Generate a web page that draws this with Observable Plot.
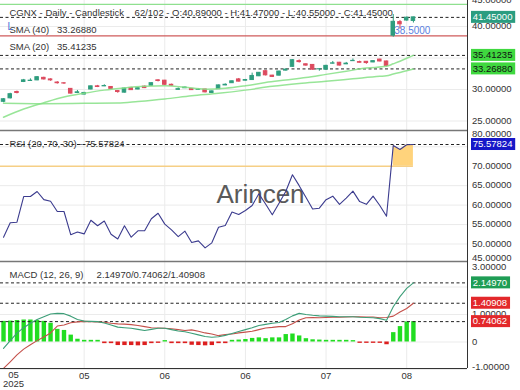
<!DOCTYPE html>
<html>
<head>
<meta charset="utf-8">
<script src="https://cdn.jsdelivr.net/npm/d3@7"></script>
<script src="https://cdn.jsdelivr.net/npm/@observablehq/plot@0.6"></script>
<style>
html,body{margin:0;padding:0;background:#fff;}
#chart{position:relative;width:520px;height:390px;overflow:hidden;background:#fff;}
#chart svg{position:absolute;left:0;}
</style>
</head>
<body>
<div id="chart"></div>
<script>
// ---------------- data ----------------
const xTickIdx = [0, 12, 24, 36, 48, 60];
const xTickLabels = ["05", "05", "06", "06", "07", "08"];
const xYearLabel = "2025";

const candleOpen = [28.05,28.6,29.6,31.2,31.35,31.45,31.85,31.6,31.1,30.98,30.1,29.45,29.2,30.0,30.5,30.5,30.4,29.75,29.5,30.25,30.0,30.45,30.6,31.45,31.4,30.75,29.95,30.2,30.1,29.95,30.0,29.45,30.05,30.65,31.0,31.6,31.4,31.5,32.1,32.9,32.2,32.2,33.0,33.6,34.5,34.0,33.9,33.2,33.15,34.1,34.25,34.0,34.5,34.35,34.4,34.3,34.75,34.45,38.55,40.7,40.95,40.89];
const candleHigh = [28.55,29.4,29.75,31.6,31.7,32.05,31.95,31.7,31.25,31.1,30.15,29.85,29.55,30.55,30.65,30.75,30.45,29.8,30.2,30.35,30.3,30.55,31.05,31.55,31.45,30.85,30.25,30.4,30.15,30.1,30.05,29.75,30.7,30.9,31.35,31.75,31.6,32.6,32.7,33.0,32.25,32.9,33.3,34.75,34.7,34.05,33.95,33.25,33.85,34.45,34.3,34.3,34.85,34.5,34.45,34.55,34.8,34.5,41.9,40.95,41.5,41.47];
const candleLow = [27.9,28.5,29.3,31.1,31.3,31.4,31.5,31.3,30.85,30.8,29.3,29.35,29.15,29.95,30.3,30.45,30.05,29.4,29.45,29.85,29.95,30.15,30.55,31.2,30.65,30.55,29.9,30.15,29.85,29.9,29.45,29.35,30.0,30.6,30.95,31.2,31.35,31.45,32.05,32.15,31.9,32.15,32.95,33.55,34.2,33.7,33.05,32.9,33.1,34.05,33.75,33.95,34.45,34.2,34.0,34.25,34.4,33.6,38.3,39.6,40.85,40.55];
const candleClose = [28.45,29.25,29.45,31.45,31.4,31.95,31.6,31.45,31.0,30.95,29.35,29.55,29.45,30.5,30.4,30.55,30.1,29.6,30.15,29.9,30.2,30.22,31.0,31.35,30.75,30.6,30.05,30.3,29.9,29.98,29.55,29.7,30.65,30.75,31.3,31.25,31.5,32.15,32.65,32.25,32.0,32.85,33.15,34.65,34.35,33.8,33.15,33.22,33.75,34.15,33.8,34.1,34.55,34.25,34.2,34.5,34.45,33.75,40.75,40.35,41.4,41.45];

const sma20Idx = [0,3,6,9,12,15,18,21,24,27,30,33,36,39,42,45,48,51,54,57,58,59,60,61];
const sma20Val = [25.6,26.9,27.9,28.8,29.4,29.9,30.25,30.5,30.6,30.35,30.05,30.2,30.6,31.1,31.5,31.9,32.4,32.9,33.4,33.68,34.08,34.49,34.96,35.41235];
const sma40Idx = [0,6,12,17,20,24,28,32,36,40,44,48,52,56,57,58,59,60,61];
const sma40Val = [27.8,27.75,27.8,27.85,28.1,28.5,29.0,29.4,29.9,30.5,30.95,31.3,31.7,32.1,32.18,32.45,32.71,32.99,33.2688];

const upperLineValue = 43.5;
const markerLineValue = 38.5;
const markerLabelIdx = 58;
const markerLabel = "38.5000";
const priceTicks = [25, 30, 35, 40, 45];
const priceTitle = "CGNX - Daily - Candlestick    62/102 - O:40.89000 - H:41.47000 - L:40.55000 - C:41.45000";
const sma40Label = "SMA (40)   33.26880";
const sma20Label = "SMA (20)   35.41235";

const rsiValues = [51.75,55.45,55.6,62.2,62.2,63.5,61.4,61.0,58.35,58.35,52.4,53.1,52.6,56.1,54.7,55.9,52.5,51.3,54.7,51.75,53.4,53.4,56.5,57.9,55.1,53.65,51.9,53.3,50.4,50.8,49.0,50.3,54.3,54.75,58.2,57.6,58.6,59.9,62.9,60.3,57.5,60.5,63.5,67.8,65.0,62.0,59.0,59.2,61.4,62.3,60.2,61.8,63.6,60.9,60.2,62.3,59.9,57.15,75.3,74.3,75.5,75.57824];
const rsiTicks = [45, 50, 55, 60, 65, 70, 75, 80];
const rsiOverbought = 70;
const rsiTitle = "RSI (20, 70, 30) - 75.57824";

const macdValues = [-0.23,0.05,0.32,0.52,0.68,0.82,0.92,1.02,1.04,1.03,0.94,0.82,0.76,0.75,0.74,0.69,0.62,0.54,0.52,0.50,0.46,0.42,0.46,0.50,0.50,0.45,0.40,0.37,0.32,0.26,0.20,0.17,0.19,0.24,0.31,0.38,0.45,0.52,0.60,0.64,0.68,0.71,0.82,0.95,1.04,1.00,0.97,0.95,0.94,0.93,0.92,0.92,0.92,0.90,0.89,0.88,0.85,0.79,1.28,1.65,1.95,2.1497];
const signalValues = [-0.96,-0.72,-0.47,-0.26,-0.10,0.05,0.18,0.33,0.58,0.62,0.70,0.73,0.75,0.74,0.73,0.72,0.68,0.66,0.65,0.63,0.60,0.56,0.52,0.51,0.50,0.48,0.45,0.42,0.44,0.39,0.33,0.29,0.23,0.27,0.29,0.33,0.36,0.39,0.45,0.51,0.53,0.56,0.56,0.66,0.80,0.88,0.89,0.88,0.89,0.90,0.90,0.91,0.92,0.92,0.91,0.91,0.88,0.89,0.94,1.09,1.22,1.40908];
const histValues = [0.75,0.76,0.78,0.80,0.80,0.78,0.75,0.68,0.46,0.42,0.25,0.10,0.06,0.06,0.06,-0.06,-0.06,-0.13,-0.13,-0.13,-0.14,-0.13,-0.06,-0.05,0.05,-0.06,-0.06,-0.06,-0.12,-0.13,-0.14,-0.13,-0.06,-0.06,0.06,0.07,0.09,0.13,0.15,0.12,0.15,0.15,0.27,0.29,0.22,0.12,0.08,0.07,0.06,0.06,0.06,0.06,0.05,-0.05,-0.05,-0.05,-0.05,-0.10,0.34,0.56,0.73,0.74062];
const macdTicks = [-1, 0, 1, 2, 3];
const macdTitle = "MACD (12, 26, 9)     2.14970/0.74062/1.40908";

// ---------------- helpers ----------------
const FONT = "'Liberation Sans', Arial, Helvetica, sans-serif";
const UP = "#2e9d7e", DOWN = "#dc4a5e", GRID = "#ebebeb";
const xDomain = [-0.45, 69.05];
const xGrid = xTickIdx.filter(d => d > 0);
const baseStyle = {fontFamily: FONT, fontSize: "9.5px", background: "transparent", overflow: "hidden", color: "#333"};

function fmt5(v) { return v === 0 ? "0" : v.toFixed(5); }

// right-hand tick labels; a label that sits under a value badge is hidden by it
function axisLabels(ticks, padTop, padBottom, badgeValues) {
  return (index, scales, values, dim) => {
    const g = d3.create("svg:g").attr("fill", "#333").attr("font-size", 9.5).attr("text-anchor", "start");
    const x0 = dim.width - dim.marginRight + 5;
    const top = dim.marginTop, bottom = dim.height - dim.marginBottom;
    const by = badgeValues.map(v => scales.y(v));
    for (const t of ticks) {
      const raw = scales.y(t);
      if (by.some(b => Math.abs(b - raw) < 6)) continue;
      const yy = Math.max(top + padTop, Math.min(bottom - padBottom, raw));
      g.append("text").attr("x", x0).attr("y", yy).attr("dy", "0.34em").text(fmt5(t));
    }
    return g.node();
  };
}
function badges(items) {
  return (index, scales, values, dim) => {
    const g = d3.create("svg:g").attr("font-size", 9.5).attr("text-anchor", "start");
    const x0 = dim.width - dim.marginRight + 4;
    for (const b of items) {
      const yy = scales.y(b.value);
      const label = b.value.toFixed(5);
      const w = label.length * 5.15 + 3;
      g.append("rect").attr("x", x0).attr("y", yy - 6).attr("width", w).attr("height", 12).attr("fill", b.bg);
      g.append("text").attr("x", x0 + 1.8).attr("y", yy).attr("dy", "0.34em").attr("fill", b.fg).text(label);
    }
    return g.node();
  };
}

// ---------------- price panel ----------------
const candles = candleOpen.map((o, i) => ({i, o, h: candleHigh[i], l: candleLow[i], c: candleClose[i]}));
const upC = candles.filter(d => d.c >= d.o);
const dnC = candles.filter(d => d.c < d.o);
const last = candles.length - 1;
const lastClose = candleClose[last];
const sma20Rows = sma20Idx.map((i, k) => ({i, v: sma20Val[k]}));
const sma40Rows = sma40Idx.map((i, k) => ({i, v: sma40Val[k]}));
const sma20Last = sma20Val[sma20Val.length - 1];
const sma40Last = sma40Val[sma40Val.length - 1];
const bodyOpts = (fill) => ({x1: d => d.i - 0.26, x2: d => d.i + 0.26, y1: d => Math.min(d.o, d.c), y2: d => Math.max(d.o, d.c), fill, stroke: fill, strokeWidth: 1});

const priceDomain = [23.49, 44.13];
const priceBadges = [
  {value: lastClose, bg: "#2a9d80", fg: "#fff"},
  {value: sma20Last, bg: "#3fd83f", fg: "#111"},
  {value: sma40Last, bg: "#3fd83f", fg: "#111"}
];
const pricePlot = Plot.plot({
  width: 520, height: 130, marginTop: 0, marginBottom: 0, marginLeft: 0, marginRight: 53,
  x: {domain: xDomain, axis: null},
  y: {domain: priceDomain, axis: null},
  style: baseStyle,
  marks: [
    Plot.ruleY(priceTicks, {stroke: GRID}),
    Plot.ruleX(xGrid, {stroke: GRID}),
    Plot.ruleY([upperLineValue], {stroke: "#8fe08f", strokeWidth: 1.3}),
    Plot.ruleY([markerLineValue], {stroke: "#cf5b5b", strokeWidth: 1.2}),
    Plot.ruleY([lastClose, sma20Last, sma40Last], {stroke: "#222", strokeDasharray: "3,2.5"}),
    Plot.text([{i: markerLabelIdx, v: markerLineValue}], {x: "i", y: "v", text: () => markerLabel, textAnchor: "start", dx: 1, dy: -5, fill: "#5b7fe0", fontSize: 10}),
    Plot.ruleX(upC, {x: "i", y1: "l", y2: "h", stroke: UP}),
    Plot.ruleX(dnC, {x: "i", y1: "l", y2: "h", stroke: DOWN}),
    Plot.rect(upC, bodyOpts(UP)),
    Plot.rect(dnC, bodyOpts(DOWN)),
    Plot.line(sma20Rows, {x: "i", y: "v", stroke: "#86e086", strokeWidth: 1.5, strokeOpacity: 0.85, curve: "monotone-x"}),
    Plot.line(sma40Rows, {x: "i", y: "v", stroke: "#86e086", strokeWidth: 1.5, strokeOpacity: 0.85, curve: "monotone-x"}),
    Plot.text([priceTitle], {frameAnchor: "top-left", dx: 9, dy: 12.5, lineAnchor: "middle", textAnchor: "start", text: d => d, fill: "#333"}),
    Plot.text([sma40Label], {frameAnchor: "top-left", dx: 9, dy: 29, lineAnchor: "middle", textAnchor: "start", text: d => d, fill: "#333"}),
    Plot.text([sma20Label], {frameAnchor: "top-left", dx: 9, dy: 46, lineAnchor: "middle", textAnchor: "start", text: d => d, fill: "#333"}),
    Plot.text(["L"], {frameAnchor: "top-left", dx: 7, dy: 26, lineAnchor: "middle", text: d => d, fill: "#4a6fd8", fontSize: 10}),
    axisLabels(priceTicks, 0, 0, priceBadges.map(b => b.value)),
    badges(priceBadges),
    Plot.ruleX([xDomain[1]], {stroke: "#333"})
  ]
});
pricePlot.style.top = "0px";

// ---------------- RSI panel ----------------
const rsiRows = rsiValues.map((v, i) => ({i, v}));
const rsiLast = rsiValues[rsiValues.length - 1];
const rsiDomain = [45.5, 79.18];
const rsiBadges = [{value: rsiLast, bg: "#1717c8", fg: "#fff"}];
const rsiPlot = Plot.plot({
  width: 520, height: 132, marginTop: 1, marginBottom: 0, marginLeft: 0, marginRight: 53,
  x: {domain: xDomain, axis: null},
  y: {domain: rsiDomain, axis: null},
  style: baseStyle,
  marks: [
    Plot.ruleY(rsiTicks.filter(t => t !== rsiOverbought), {stroke: GRID}),
    Plot.ruleX(xGrid, {stroke: GRID}),
    Plot.text(["Arincen"], {frameAnchor: "middle", dx: 26.5, dy: -1, text: d => d, fontSize: 26, fill: "#5a5a5a"}),
    Plot.areaY(rsiRows.filter(d => d.v >= rsiOverbought), {x: "i", y1: rsiOverbought, y2: "v", fill: "#ffd37c"}),
    Plot.ruleY([rsiOverbought], {x1: xDomain[0], x2: last, stroke: "#f6cf86", strokeWidth: 1.5}),
    Plot.ruleY([rsiLast], {stroke: "#222", strokeDasharray: "3,2.5"}),
    Plot.line(rsiRows, {x: "i", y: "v", stroke: "#3b3b8e", strokeWidth: 1.1}),
    Plot.text([rsiTitle], {frameAnchor: "top-left", dx: 9, dy: 13.5, lineAnchor: "middle", textAnchor: "start", text: d => d, fill: "#333"}),
    Plot.ruleY([rsiDomain[1]], {stroke: "#777", strokeWidth: 1.5}),
    axisLabels(rsiTicks, 3.5, 3.5, rsiBadges.map(b => b.value)),
    badges(rsiBadges),
    Plot.ruleX([xDomain[1]], {stroke: "#333"})
  ]
});
rsiPlot.style.top = "129px";

// ---------------- MACD panel ----------------
const macdRows = macdValues.map((v, i) => ({i, v}));
const signalRows = signalValues.map((v, i) => ({i, v}));
const histRows = histValues.map((v, i) => ({i, v}));
const macdLast = macdValues[last], signalLast = signalValues[last], histLast = histValues[last];
const macdDomain = [-0.964, 2.927];
const xLabelRows = xTickIdx.map((i, k) => ({i, label: xTickLabels[k]}));
const macdBadges = [
  {value: macdLast, bg: "#1f9d55", fg: "#fff"},
  {value: signalLast, bg: "#e3282b", fg: "#fff"},
  {value: histLast, bg: "#e3282b", fg: "#fff"}
];
const macdPlot = Plot.plot({
  width: 520, height: 130, marginTop: 1, marginBottom: 22, marginLeft: 0, marginRight: 53,
  x: {domain: xDomain, axis: null},
  y: {domain: macdDomain, axis: null},
  style: baseStyle,
  marks: [
    Plot.ruleY(macdTicks, {stroke: GRID}),
    Plot.ruleX(xGrid, {stroke: GRID}),
    Plot.ruleX(histRows.filter(d => d.v >= 0), {x: "i", y1: 0, y2: "v", stroke: "#21dd21", strokeWidth: 4.4}),
    Plot.ruleX(histRows.filter(d => d.v < 0), {x: "i", y1: 0, y2: "v", stroke: "#dd1f1f", strokeWidth: 4.4}),
    Plot.ruleY([macdLast, signalLast, histLast], {stroke: "#222", strokeDasharray: "3,2.5"}),
    Plot.line(signalRows, {x: "i", y: "v", stroke: "#c4504a", strokeWidth: 1.1}),
    Plot.line(macdRows, {x: "i", y: "v", stroke: "#3d9e78", strokeWidth: 1.1}),
    Plot.text([macdTitle], {frameAnchor: "top-left", dx: 9, dy: 13, lineAnchor: "middle", textAnchor: "start", text: d => d, fill: "#333"}),
    Plot.ruleY([macdDomain[1]], {stroke: "#777", strokeWidth: 1.5}),
    Plot.ruleY([macdDomain[0]], {stroke: "#333"}),
    Plot.text(xLabelRows.slice(1), {x: "i", text: "label", frameAnchor: "bottom", dy: 7, lineAnchor: "middle", fill: "#333"}),
    Plot.text(xLabelRows.slice(0, 1), {x: "i", text: d => d.label + "\n" + xYearLabel, frameAnchor: "bottom", dx: 10, dy: 2.5, lineAnchor: "top", fill: "#333"}),
    axisLabels(macdTicks, 6, 1.5, macdBadges.map(b => b.value)),
    badges(macdBadges),
    Plot.ruleX([xDomain[1]], {stroke: "#333"})
  ]
});
macdPlot.style.top = "260px";

const root = document.getElementById("chart");
root.append(pricePlot, rsiPlot, macdPlot);
</script>
</body>
</html>
